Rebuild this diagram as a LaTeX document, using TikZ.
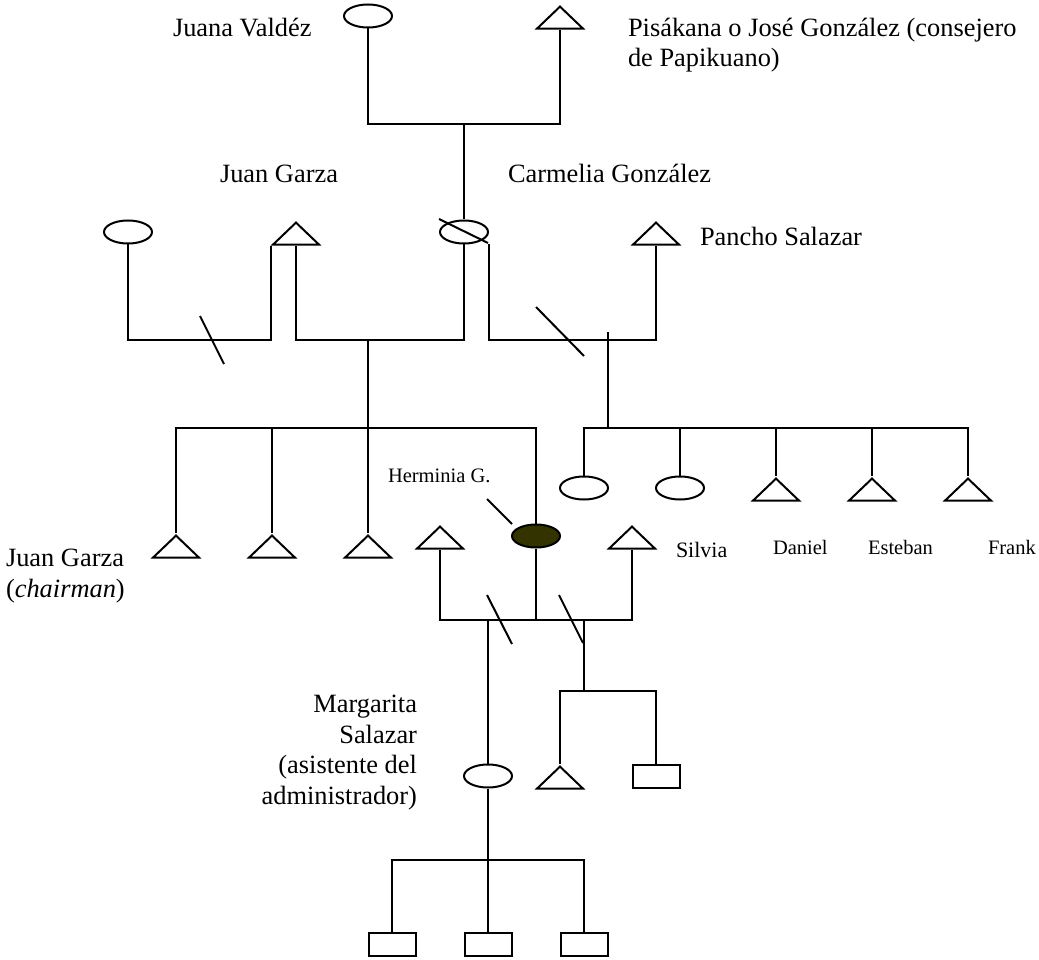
\documentclass[tikz,border=0pt]{standalone}
\usepackage{fontspec}
\setmainfont{Liberation Serif}
\usetikzlibrary{shapes.geometric}
\definecolor{olivedark}{RGB}{51,51,0}

\begin{document}
\begin{tikzpicture}[x=1pt,y=-1pt,line width=2pt,line join=miter,
  female/.style={ellipse,draw,minimum width=48pt,minimum height=23pt,inner sep=0pt},
  male/.style={isosceles triangle,isosceles triangle stretches=true,
    shape border rotate=90,draw,minimum width=46pt,minimum height=22pt,
    inner sep=0pt,anchor=apex},
  unknown/.style={rectangle,draw,minimum width=47pt,minimum height=23pt,inner sep=0pt},
  lbl/.style={font=\fontsize{26.4}{30.5}\selectfont,inner sep=0pt,anchor=base west},
  smalllbl/.style={font=\fontsize{20.5}{24}\selectfont,inner sep=0pt,anchor=base west}]

% canvas
\path[fill=white,use as bounding box] (0,0) rectangle (1039,960);

% first generation
\node[female] (juana) at (368,16) {};
\node[male] (pisakana) at (560,4) {};

% second generation
\node[female] (exwife) at (128,232) {};
\node[male] (juangarza) at (296,220) {};
\node[female] (carmelia) at (464,232) {};
\node[male] (pancho) at (656,220) {};

% third generation
\node[male] (chairman) at (176,533) {};
\node[male] (son2) at (272,533) {};
\node[male] (son3) at (368,533) {};
\node[male] (spouse1) at (440,524) {};
\node[female,fill=olivedark] (herminia) at (536,536) {};
\node[male] (spouse2) at (632,524) {};
\node[female] (dau1) at (584,488) {};
\node[female] (silvia) at (680,488) {};
\node[male] (daniel) at (776,476) {};
\node[male] (esteban) at (872,476) {};
\node[male] (frank) at (968,476) {};

% fourth generation
\node[female] (margarita) at (488,776) {};
\node[male] (gs1) at (560,764) {};
\node[unknown] (gs2) at (656,776) {};

% fifth generation
\node[unknown] (gc1) at (392,944) {};
\node[unknown] (gc2) at (488,944) {};
\node[unknown] (gc3) at (584,944) {};

% junction points
\coordinate (top) at (464,124);
\coordinate (u2) at (368,340);
\coordinate (u3) at (608,340);
\coordinate (u3top) at (608,332);
\coordinate (kidsA) at (368,428);
\coordinate (kidsB) at (608,428);
\coordinate (u4) at (536,620);
\coordinate (u5) at (584,620);
\coordinate (kidsC) at (584,691);
\coordinate (kidsD) at (488,860);
\coordinate (hp1) at (487,499);
\coordinate (hp2) at (512,524);

% marriage and descent lines
\draw (juana.south) |- (top) -| (pisakana.lower side);
\draw (top) -- (carmelia.north);
\draw (exwife.south) -- (exwife.south |- u2) -| (juangarza.left corner);
\draw (juangarza.lower side) |- (u2) -| (carmelia.south);
\draw (u2) -- (son3.apex);
\draw (carmelia.east |- carmelia.south) |- (u3) -| (pancho.lower side);
\draw (u3top) -- (kidsB);
\draw (chairman.apex) -- (chairman.apex |- kidsA) -| (herminia.north);
\draw (son2.apex) -- (son2.apex |- kidsA);
\draw (dau1.north) -- (dau1.north |- kidsB) -| (frank.apex);
\draw (silvia.north) -- (silvia.north |- kidsB);
\draw (daniel.apex) -- (daniel.apex |- kidsB);
\draw (esteban.apex) -- (esteban.apex |- kidsB);
\draw (spouse1.lower side) |- (u4) -| (spouse2.lower side);
\draw (herminia.south) -- (u4);
\draw (margarita.north) -- (margarita.north |- u4);
\draw (u5) -- (kidsC);
\draw (gs1.apex) |- (kidsC) -| (gs2.north);
\draw (margarita.south) -- (kidsD);
\draw (gc1.north) -- (gc1.north |- kidsD) -| (gc3.north);
\draw (kidsD) -- (gc2.north);
\draw (hp1) -- (hp2);

% separation marks
\draw (200,316) -- (224,364);
\draw (536,307) -- (584,356);
\draw (439,219) -- (488,243);
\draw (487,595) -- (512,644);
\draw (559,595) -- (583,643);

% names (multi-line nodes sit on the baseline of their last line)
\node[lbl] (lJuana) at (172,37) {Juana Valdéz};
\node[lbl,align=left] (lPis) at (627,67) {Pisákana o José González (consejero\\de Papikuano)};
\node[lbl] (lJG) at (219,183) {Juan Garza};
\node[lbl] (lCarm) at (507,183) {Carmelia González};
\node[lbl] (lPancho) at (699,246) {Pancho Salazar};
\node[lbl,align=left] (lChair) at (5,597) {Juan Garza\\(\textit{chairman})};
\node[smalllbl] (lHerm) at (387,482) {Herminia G.};
\node[font=\fontsize{22}{26}\selectfont,inner sep=0pt,anchor=base west] (lSilvia) at (675,557) {Silvia};
\node[smalllbl] (lDaniel) at (772,554) {Daniel};
\node[smalllbl] (lEsteban) at (867,554) {Esteban};
\node[smalllbl] (lFrank) at (987,554) {Frank};
\node[lbl,align=right,anchor=base east] (lMarg) at (418,804) {Margarita\\Salazar\\(asistente del\\administrador)};
\end{tikzpicture}
\end{document}
